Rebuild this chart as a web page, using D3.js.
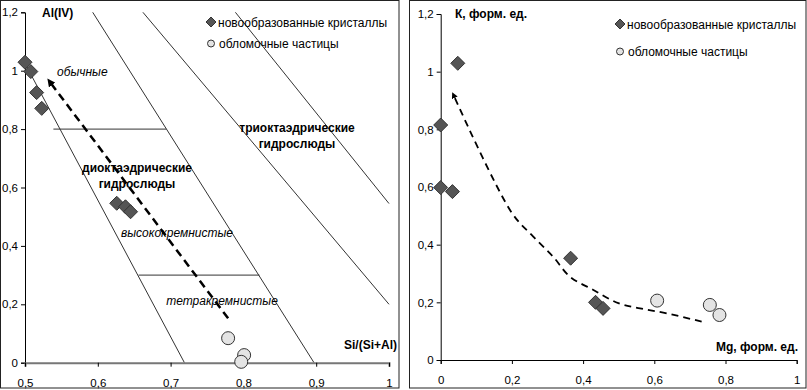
<!DOCTYPE html>
<html><head><meta charset="utf-8">
<script src="https://cdnjs.cloudflare.com/ajax/libs/d3/7.8.5/d3.min.js"></script>
<style>
body{margin:0;background:#fff;}
svg{font-family:"Liberation Sans",Arial,sans-serif;}
</style></head><body>
<svg id="c" width="807" height="390"></svg>
<script>
// ---------- data ----------
const leftXTicks = [0.5,0.6,0.7,0.8,0.9,1];
const leftYTicks = [0,0.2,0.4,0.6,0.8,1,1.2];
const rightXTicks = [0,0.2,0.4,0.6,0.8,1];
const rightYTicks = [0,0.2,0.4,0.6,0.8,1,1.2];

// left: Si/(Si+Al) vs Al(IV)
const leftCrystals = [[0.5,1.029],[0.508,0.997],[0.516,0.925],[0.523,0.871],[0.626,0.546],[0.638,0.534],[0.645,0.517]];
const leftParticles = [[0.779,0.084],[0.801,0.026],[0.797,0.003]];
const leftBoundaries = [
  [[0.5,1.025],[0.719,0]],
  [[0.593,1.2],[0.897,0]],
  [[0.662,1.2],[1.0,0.2]],
  [[0.789,1.2],[1.0,0.545]],
  [[0.539,0.8],[0.694,0.8]],
  [[0.656,0.3],[0.822,0.3]]
];
const leftTrend = [[0.779,0.152],[0.534,0.962]];

// right: Mg vs K
const rightCrystals = [[0.048,1.029],[0,0.815],[0,0.598],[0.033,0.584],[0.365,0.353],[0.435,0.2],[0.456,0.179]];
const rightParticles = [[0.608,0.206],[0.756,0.191],[0.783,0.156]];
const rightTrend = [[0.733,0.133],[0.635,0.162],[0.56,0.179],[0.499,0.197],[0.429,0.243],[0.363,0.289],[0.316,0.358],[0.26,0.428],[0.2,0.51],[0.036,0.919]];

const legendLabels = ["новообразованные кристаллы","обломочные частицы"];

// ---------- drawing ----------
const svg = d3.select("#c");
const fmt = d => (d===0||d===1) ? String(d) : String(d).replace(".",",");

const defs = svg.append("defs");
defs.append("marker").attr("id","arrL").attr("viewBox","0 0 10 10").attr("refX",5).attr("refY",5)
  .attr("markerWidth",3.2).attr("markerHeight",3.2).attr("orient","auto-start-reverse").attr("markerUnits","strokeWidth")
  .append("path").attr("d","M0,0L10,5L0,10z").attr("fill","#000");
defs.append("marker").attr("id","arrR").attr("viewBox","0 0 10 10").attr("refX",5).attr("refY",5)
  .attr("markerWidth",3.5).attr("markerHeight",3.5).attr("orient","auto-start-reverse").attr("markerUnits","strokeWidth")
  .append("path").attr("d","M0,0L10,5L0,10z").attr("fill","#000");

// panel frames
svg.append("rect").attr("x",0.5).attr("y",0.5).attr("width",398.5).attr("height",387.5).attr("fill","none").attr("stroke","#222");
svg.append("rect").attr("x",409.5).attr("y",0.5).attr("width",396.5).attr("height",387.5).attr("fill","none").attr("stroke","#222");

function diamond(g, x, y, r){
  g.append("path").attr("d",`M${x},${y-r}L${x+r},${y}L${x},${y+r}L${x-r},${y}Z`)
   .attr("fill","#555").attr("stroke","#333").attr("stroke-width",1);
}
function circ(g,x,y,r){
  g.append("circle").attr("cx",x).attr("cy",y).attr("r",r).attr("fill","#e4e4e4").attr("stroke","#333").attr("stroke-width",1);
}

function axes(g, x, y, xt, yt, xAxisColor, xAxisWidth){
  const ya = g.append("g").attr("transform",`translate(${x.range()[0]},0)`)
    .call(d3.axisLeft(y).tickValues(yt).tickFormat(fmt).tickSize(4).tickPadding(3));
  ya.select(".domain").attr("stroke","#000");
  ya.selectAll(".tick line").attr("stroke","#000");
  ya.selectAll("text").attr("font-size",11.5).attr("fill","#000").attr("font-family","Liberation Sans, Arial, sans-serif");
  const xa = g.append("g").attr("transform",`translate(0,${y.range()[0]})`)
    .call(d3.axisBottom(x).tickValues(xt).tickFormat(fmt).tickSize(4).tickPadding(12));
  xa.select(".domain").attr("stroke",xAxisColor).attr("stroke-width",xAxisWidth);
  xa.selectAll(".tick line").attr("stroke","#000");
  xa.selectAll("text").attr("font-size",11.5).attr("fill","#000").attr("font-family","Liberation Sans, Arial, sans-serif");
}

function legend(g, x, y1, y2){
  diamond(g, x, y1, 5);
  g.append("text").attr("x",x+7).attr("y",y1+4.5).attr("font-size",12).text(legendLabels[0]);
  circ(g, x, y2, 3.5);
  g.append("text").attr("x",x+8).attr("y",y2+4.5).attr("font-size",12).text(legendLabels[1]);
}

// ----- left panel -----
{
  const g = svg.append("g");
  const x = d3.scaleLinear().domain([0.5,1]).range([25,389]);
  const y = d3.scaleLinear().domain([0,1.2]).range([362.7,12.3]);
  const line = d3.line().x(d=>x(d[0])).y(d=>y(d[1]));
  leftBoundaries.forEach(b=>{
    g.append("path").attr("d",line(b)).attr("stroke","#333").attr("stroke-width",1).attr("fill","none");
  });
  axes(g,x,y,leftXTicks,leftYTicks,"#777",2);
  g.append("path").attr("d",line(leftTrend)).attr("stroke","#000").attr("stroke-width",2.5)
    .attr("stroke-dasharray","8,5").attr("fill","none").attr("marker-end","url(#arrL)");
  leftCrystals.forEach(d=>diamond(g,x(d[0]),y(d[1]),7));
  leftParticles.forEach(d=>circ(g,x(d[0]),y(d[1]),6.5));
  const t = (tx,ty,s,opt={})=>g.append("text").attr("x",tx).attr("y",ty).attr("font-size",opt.size||12)
      .attr("font-weight",opt.bold?"bold":null).attr("font-style",opt.italic?"italic":null)
      .attr("text-anchor",opt.anchor||"start").text(s);
  t(42,17,"Al(IV)",{bold:true});
  t(57,76,"обычные",{italic:true});
  t(137,172,"диоктаэдрические",{bold:true,anchor:"middle"});
  t(137,188,"гидрослюды",{bold:true,anchor:"middle"});
  t(297,132,"триоктаэдрические",{bold:true,anchor:"middle"});
  t(297,148,"гидрослюды",{bold:true,anchor:"middle"});
  t(177,237,"высококремнистые",{italic:true,anchor:"middle"});
  t(222,305,"тетракремнистые",{italic:true,anchor:"middle"});
  t(397,349,"Si/(Si+Al)",{bold:true,anchor:"end"});
  legend(g,211,22,43.5);
}

// ----- right panel -----
{
  const g = svg.append("g");
  const x = d3.scaleLinear().domain([0,1]).range([440.7,796.7]);
  const y = d3.scaleLinear().domain([0,1.2]).range([360,14]);
  axes(g,x,y,rightXTicks,rightYTicks,"#000",1);
  const line = d3.line().x(d=>x(d[0])).y(d=>y(d[1])).curve(d3.curveCatmullRom.alpha(0.5));
  g.append("path").attr("d",line(rightTrend)).attr("stroke","#000").attr("stroke-width",1.8)
    .attr("stroke-dasharray","7,5").attr("fill","none").attr("marker-end","url(#arrR)");
  rightCrystals.forEach(d=>diamond(g,x(d[0]),y(d[1]),7));
  rightParticles.forEach(d=>circ(g,x(d[0]),y(d[1]),6.5));
  g.append("text").attr("x",455).attr("y",18).attr("font-size",12).attr("font-weight","bold").text("К, форм. ед.");
  g.append("text").attr("x",798).attr("y",351).attr("font-size",12).attr("font-weight","bold").attr("text-anchor","end").text("Mg, форм. ед.");
  legend(g,620,24,51.5);
}
</script>
</body></html>
